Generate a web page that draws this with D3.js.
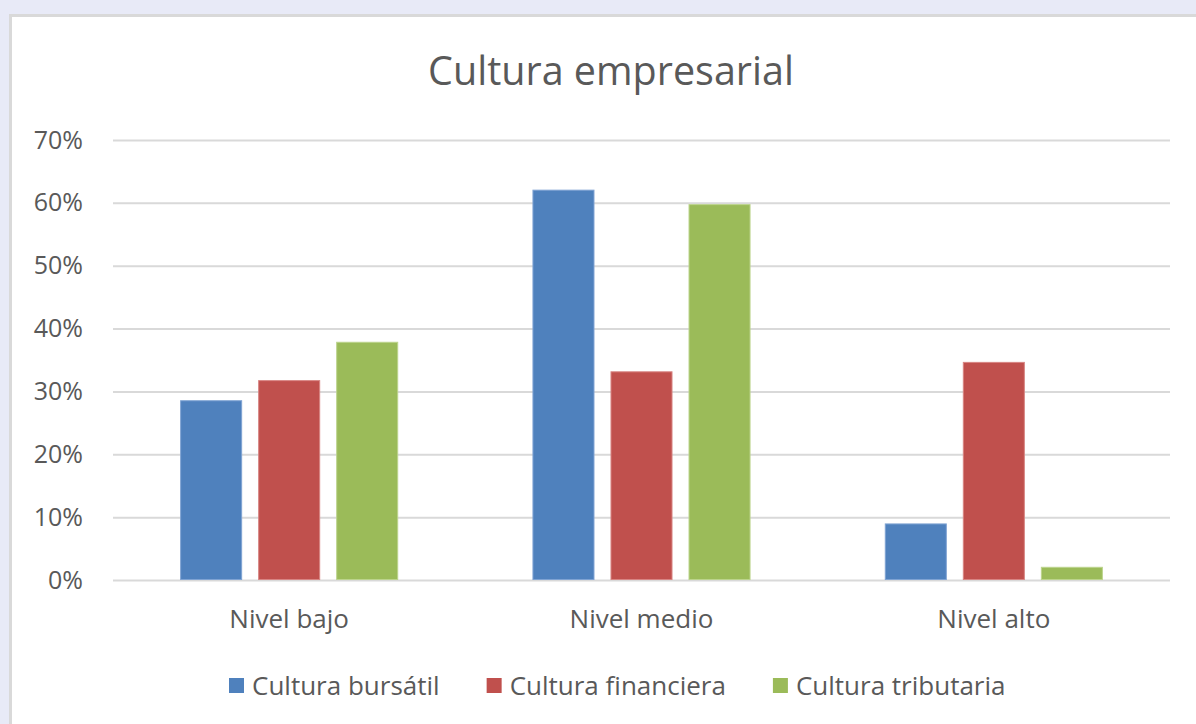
<!DOCTYPE html>
<html>
<head>
<meta charset="utf-8">
<script src="https://cdn.jsdelivr.net/npm/d3@7"></script>
<style>
    html, body { margin: 0; padding: 0; background: #e8eaf7; overflow: hidden; }
    svg { display: block; }
    text { font-family: "Open Sans", "Noto Sans", sans-serif; fill: #595959; }
</style>
</head>
<body>
<div id="chart"></div>
<script>
// Chart data.
var categories = ['Nivel bajo', 'Nivel medio', 'Nivel alto'];
var series = ['Cultura bursátil', 'Cultura financiera', 'Cultura tributaria'];
var colors = ['#4f81bd', '#c0504d', '#9bbb59'];
var strokes = ['#7fa3d3', '#d88583', '#bcd48c'];
var bursatil = [0.286, 0.621, 0.09];
var financiera = [0.318, 0.332, 0.347];
var tributaria = [0.379, 0.598, 0.021];
var yTicks = [0, 0.1, 0.2, 0.3, 0.4, 0.5, 0.6, 0.7];

var values = [bursatil, financiera, tributaria];

var width = 1196, height = 724;
var plotLeft = 113, plotRight = 1170, plotTop = 140, plotBottom = 580;

var svg = d3.select('#chart')
    .append('svg')
    .attr('width', width)
    .attr('height', height);

// White chart area with grey frame.
svg.append('rect')
    .attr('x', 10.5)
    .attr('y', 15.5)
    .attr('width', width + 20)
    .attr('height', height + 20)
    .attr('fill', '#fff')
    .attr('stroke', '#d9d9d9')
    .attr('stroke-width', 3);

// Title.
svg.append('text')
    .attr('x', 611)
    .attr('y', 85)
    .attr('text-anchor', 'middle')
    .style('font-size', '39.5px')
    .text('Cultura empresarial');

// Scales.
var x0 = d3.scaleBand()
    .domain(categories)
    .range([plotLeft, plotRight])
    .paddingInner(0.381)
    .paddingOuter(0.1905);

var x1 = d3.scaleBand()
    .domain(series)
    .range([0, x0.bandwidth()])
    .paddingInner(0.205);

var y = d3.scaleLinear()
    .domain([0, 0.7])
    .range([plotBottom, plotTop]);

// Y axis with gridlines.
var yAxis = svg.append('g')
    .attr('transform', 'translate(' + plotLeft + ',0)')
    .call(d3.axisLeft(y)
        .tickValues(yTicks)
        .tickSize(-(plotRight - plotLeft))
        .tickPadding(30)
        .tickFormat(d3.format('.0%')));

yAxis.select('.domain').remove();
yAxis.selectAll('line')
    .attr('stroke', '#d9d9d9')
    .attr('stroke-width', 2);
yAxis.selectAll('text')
    .attr('fill', '#595959')
    .style('font-size', '25px')
    .style('font-family', '"Open Sans", "Noto Sans", sans-serif');

// Bars.
var groups = svg.selectAll('.group')
    .data(categories)
    .enter()
    .append('g')
    .attr('class', 'group')
    .attr('transform', function(d) { return 'translate(' + x0(d) + ',0)'; });

groups.selectAll('rect')
    .data(function(d, i) {
        return series.map(function(s, j) { return { series: s, index: j, value: values[j][i] }; });
    })
    .enter()
    .append('rect')
    .attr('x', function(d) { return x1(d.series) + 0.5; })
    .attr('y', function(d) { return y(d.value) + 0.5; })
    .attr('width', x1.bandwidth() - 1)
    .attr('height', function(d) { return plotBottom - y(d.value) - 1; })
    .attr('fill', function(d) { return colors[d.index]; })
    .attr('stroke', function(d) { return strokes[d.index]; })
    .attr('stroke-width', 1);

// Category labels.
svg.selectAll('.cat')
    .data(categories)
    .enter()
    .append('text')
    .attr('class', 'cat')
    .attr('x', function(d) { return x0(d) + x0.bandwidth() / 2; })
    .attr('y', 628)
    .attr('text-anchor', 'middle')
    .style('font-size', '26px')
    .text(function(d) { return d; });

// Legend.
var legend = svg.append('g');
var lx = 229;
series.forEach(function(s, i) {
    legend.append('rect')
        .attr('x', lx)
        .attr('y', 678)
        .attr('width', 15)
        .attr('height', 15)
        .attr('fill', colors[i]);
    var t = legend.append('text')
        .attr('x', lx + 23)
        .attr('y', 695)
        .style('font-size', '26px')
        .text(s);
    lx += 23 + t.node().getComputedTextLength() + 47;
});
</script>
</body>
</html>
